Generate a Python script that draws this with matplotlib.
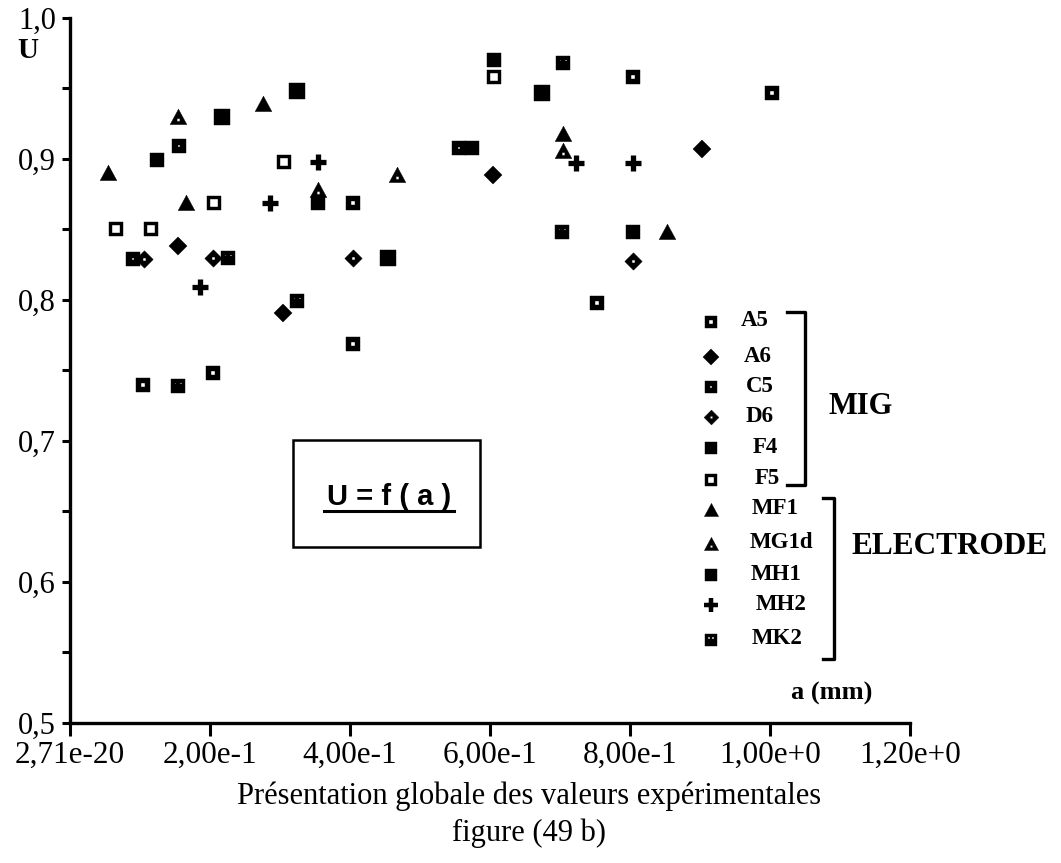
import matplotlib
matplotlib.use("Agg")
import matplotlib.pyplot as plt
from matplotlib.path import Path
from matplotlib.lines import Line2D
from matplotlib.patches import Rectangle

# data: a (mm) and U for each sample
a_A5 = [0.104, 0.204, 0.404, 0.753, 1.003, 0.404, 0.804]
u_A5 = [0.740, 0.748, 0.769, 0.798, 0.947, 0.869, 0.958]
a_A6 = [0.154, 0.304, 0.604, 0.903]
u_A6 = [0.838, 0.791, 0.889, 0.907]
a_C5 = [0.156, 0.555, 0.090]
u_C5 = [0.909, 0.908, 0.829]
a_D6 = [0.106, 0.204, 0.404, 0.804]
u_D6 = [0.829, 0.830, 0.830, 0.828]
a_F4 = [0.217, 0.324, 0.674, 0.454]
u_F4 = [0.930, 0.948, 0.947, 0.830]
a_F5 = [0.066, 0.116, 0.206, 0.306, 0.606]
u_F5 = [0.850, 0.850, 0.869, 0.898, 0.958]
a_MF1 = [0.054, 0.166, 0.276, 0.704, 0.853]
u_MF1 = [0.890, 0.869, 0.939, 0.918, 0.848]
a_MG1d = [0.154, 0.354, 0.467, 0.704]
u_MG1d = [0.930, 0.878, 0.889, 0.906]
a_MH1 = [0.606, 0.575, 0.804, 0.354, 0.124]
u_MH1 = [0.970, 0.908, 0.848, 0.869, 0.899]
a_MH2 = [0.186, 0.286, 0.354, 0.723, 0.804]
u_MH2 = [0.809, 0.869, 0.898, 0.897, 0.897]
a_MK2 = [0.154, 0.324, 0.703, 0.704, 0.226]
u_MK2 = [0.739, 0.799, 0.848, 0.968, 0.830]

x_ticks = [0.0, 0.2, 0.4, 0.6, 0.8, 1.0, 1.2]
x_labels = ["2,71e-20", "2,00e-1", "4,00e-1", "6,00e-1", "8,00e-1", "1,00e+0", "1,20e+0"]
y_ticks = [0.5, 0.6, 0.7, 0.8, 0.9, 1.0]
y_labels = ["0,5", "0,6", "0,7", "0,8", "0,9", "1,0"]


# marker shapes with holes (outer CCW, holes CW)
def holed(outer, holes):
    verts, codes = [], []
    for poly in [outer] + holes:
        verts += poly + [poly[0]]
        codes += [Path.MOVETO] + [Path.LINETO] * (len(poly) - 1) + [Path.CLOSEPOLY]
    return Path(verts, codes)


def sq(cx, cy, h):
    return [(cx - h, cy - h), (cx + h, cy - h), (cx + h, cy + h), (cx - h, cy + h)]


def hole(cx, cy, h):
    return sq(cx, cy, h)[::-1]


diamond = [(0, -1), (1, 0), (0, 1), (-1, 0)]
tri = [(-1, -0.85), (1, -0.85), (0, 1)]

m_A5 = holed(sq(0, 0, 1), [hole(0, 0, 0.32)])
m_F5 = holed(sq(0, 0, 1), [hole(0, 0, 0.5)])
m_C5 = holed(sq(0, 0, 1), [hole(0, 0, 0.16)])
m_MK2 = holed(sq(0, 0, 1), [hole(-0.35, 0.35, 0.13), hole(0.35, 0.35, 0.13)])
m_D6 = holed(diamond, [hole(0, 0, 0.17)])
m_MG1d = holed(tri, [hole(0, -0.3, 0.17)])
m_tri = holed(tri, [])

series = [
    ("A5", a_A5, u_A5, m_A5, 10.5, 0),
    ("A6", a_A6, u_A6, "D", 9.5, 0),
    ("C5", a_C5, u_C5, m_C5, 10.5, 0),
    ("D6", a_D6, u_D6, m_D6, 12.5, 0),
    ("F4", a_F4, u_F4, "s", 11, 0),
    ("F5", a_F5, u_F5, m_F5, 10.5, 0),
    ("MF1", a_MF1, u_MF1, m_tri, 12, 0),
    ("MG1d", a_MG1d, u_MG1d, m_MG1d, 12, 0),
    ("MH1", a_MH1, u_MH1, "s", 10.5, 0),
    ("MH2", a_MH2, u_MH2, "+", 12, 3.8),
    ("MK2", a_MK2, u_MK2, m_MK2, 10.5, 0),
]

serif = "Liberation Serif"

fig = plt.figure(figsize=(10.61, 8.63), dpi=100)
W, H = 1061, 863
ax = fig.add_axes([70 / W, 1 - 723 / H, 840 / W, 705 / H])

for name, xs, ys, mk, ms, mew in series:
    ax.plot(xs, ys, linestyle="none", marker=mk, markersize=ms, color="black",
            markeredgewidth=mew if mew else 0.3, clip_on=False)

ax.set_xlim(0, 1.2)
ax.set_ylim(0.5, 1.0)
ax.spines["top"].set_visible(False)
ax.spines["right"].set_visible(False)
ax.spines["left"].set_linewidth(2.4)
ax.spines["bottom"].set_linewidth(2.4)
ax.set_xticks(x_ticks)
ax.set_xticklabels(x_labels, family=serif, fontsize=22.5)
ax.set_yticks(y_ticks)
ax.set_yticklabels(y_labels, family=serif, fontsize=22)
ax.set_yticks([0.55, 0.65, 0.75, 0.85, 0.95], minor=True)
ax.tick_params(axis="x", direction="out", length=9, width=2.2, pad=4)
ax.tick_params(axis="y", which="both", direction="out", length=6, width=2.2, pad=4)

# labels around the plot
fig.text(28 / W, 1 - 50 / H, "U", family=serif, weight="bold", fontsize=21,
         ha="center", va="center")
fig.text(832 / W, 1 - 693 / H, "a (mm)", family=serif, weight="bold", fontsize=19,
         ha="center", va="center")
fig.text(529 / W, 1 - 796 / H, "Présentation globale des valeurs expérimentales",
         family=serif, fontsize=22, ha="center", va="center")
fig.text(529 / W, 1 - 833 / H, "figure (49 b)", family=serif, fontsize=22,
         ha="center", va="center")

# boxed formula
fig.add_artist(Rectangle((293 / W, 1 - 547 / H), 187 / W, 107 / H, fill=False,
                         edgecolor="black", linewidth=1.8, transform=fig.transFigure))
fig.text(389 / W, 1 - 497 / H, "U = f ( a )", family="Liberation Sans", weight="bold",
         fontsize=21, ha="center", va="center")
fig.add_artist(Line2D([324 / W, 454 / W], [1 - 511 / H, 1 - 511 / H], color="black",
                      linewidth=2.2, transform=fig.transFigure))

# hand-made legend
leg_y = [322, 357, 387, 417, 448, 480, 510, 544, 575, 605, 640]
leg_tx = [755, 758, 760, 760, 765, 767, 775, 781, 776, 781, 777]
for (name, xs, ys, mk, ms, mew), yy, tx in zip(series, leg_y, leg_tx):
    fig.add_artist(Line2D([711 / W], [1 - yy / H], linestyle="none", marker=mk,
                          markersize=ms * 0.85, color="black",
                          markeredgewidth=mew * 0.85 if mew else 0.3,
                          transform=fig.transFigure))
    fig.text(tx / W, 1 - (yy - 1) / H, name, family=serif, weight="bold", fontsize=16.5,
             ha="center", va="center")


# brackets
def bracket(x0, x1, y0, y1):
    fig.add_artist(Line2D([x0 / W, x1 / W, x1 / W, x0 / W],
                          [1 - y0 / H, 1 - y0 / H, 1 - y1 / H, 1 - y1 / H],
                          color="black", linewidth=2.4, transform=fig.transFigure))


bracket(787, 805, 312, 485)
bracket(823, 834, 498, 659)
fig.text(861 / W, 1 - 406 / H, "MIG", family=serif, weight="bold", fontsize=22,
         ha="center", va="center")
fig.text(950 / W, 1 - 547 / H, "ELECTRODE", family=serif, weight="bold", fontsize=22.5,
         ha="center", va="center")

fig.savefig("out.png", dpi=100)
